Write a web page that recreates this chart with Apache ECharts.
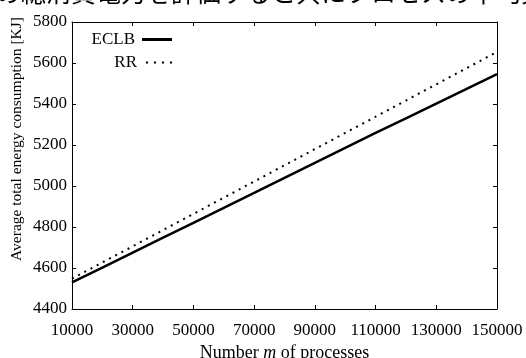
<!DOCTYPE html>
<html>
<head>
<meta charset="utf-8">
<script src="https://cdn.jsdelivr.net/npm/echarts@6/dist/echarts.min.js"></script>
<style>
  html, body { margin: 0; padding: 0; background: #fff; }
  #chart { width: 526px; height: 358px; }
</style>
</head>
<body>
<div id="chart"></div>
<script>
// number of processes m
var processes = [10000, 20000, 30000, 40000, 50000, 60000, 70000, 80000,
  90000, 100000, 110000, 120000, 130000, 140000, 150000];
// average total energy consumption [KJ]
var eclb = [4530, 4602, 4675, 4748, 4820, 4893, 4966, 5040,
  5113, 5186, 5259, 5330, 5402, 5474, 5546];
var rr = [4548, 4627, 4706, 4785, 4864, 4943, 5022, 5101,
  5180, 5259, 5338, 5417, 5496, 5575, 5654];

var xTicks = { min: 10000, max: 150000, interval: 20000 };
var yTicks = { min: 4400, max: 5800, interval: 200 };

var serif = 'Liberation Serif';

function pairs(xs, ys) {
  var res = [];
  for (var i = 0; i < xs.length; i++) {
    res.push([xs[i], ys[i]]);
  }
  return res;
}

// box axes: ticks inward on all four sides, labels only bottom/left
function boxAxis(pos, range, showLabel) {
  return {
    type: 'value',
    position: pos,
    min: range.min,
    max: range.max,
    interval: range.interval,
    axisLine: { show: true, onZero: false, lineStyle: { color: '#000', width: 1 } },
    axisTick: { show: true, inside: true, length: 4, lineStyle: { color: '#000' } },
    splitLine: { show: false },
    axisLabel: {
      show: showLabel,
      color: '#000',
      fontFamily: serif,
      fontSize: 17,
      margin: (pos === 'bottom') ? 13 : 5,
      formatter: function (v) { return String(v); }
    }
  };
}

var xBottom = boxAxis('bottom', xTicks, true);
xBottom.name = '{a|Number }{m|m}{a| of processes}';
xBottom.nameLocation = 'middle';
xBottom.nameGap = 34;
xBottom.nameTextStyle = {
  rich: {
    a: { fontFamily: serif, fontSize: 18, color: '#000' },
    m: { fontFamily: serif, fontSize: 18, color: '#000', fontStyle: 'italic' }
  }
};

function legendAt(name, top, icon, h) {
  return {
    data: [{ name: name, icon: icon }],
    right: 354,
    top: top,
    align: 'right',
    itemWidth: 30,
    itemHeight: h,
    itemGap: 4,
    padding: 0,
    itemStyle: { color: '#000', borderWidth: 0 },
    textStyle: { fontFamily: serif, fontSize: 17, color: '#000', padding: [0, 2, 0, 0] }
  };
}

var option = {
  backgroundColor: '#fff',
  animation: false,
  title: {
    text: 'の総消費電力を評価すると共にプロセスの平均実行時間',
    left: -4,
    top: -20,
    padding: 0,
    textStyle: {
      fontFamily: 'Noto Sans CJK JP',
      fontSize: 25,
      fontWeight: 'normal',
      color: '#000'
    }
  },
  grid: { left: 72, right: 29, top: 22, bottom: 49, outerBoundsMode: 'none', containLabel: false },
  legend: [
    legendAt('ECLB', 31, 'rect', 3),
    legendAt('RR', 54, 'path://M0,0h2v2h-2zM8,0h2v2h-2zM16,0h2v2h-2zM24,0h2v2h-2z', 2)
  ],
  xAxis: [xBottom, boxAxis('top', xTicks, false)],
  yAxis: [boxAxis('left', yTicks, true), boxAxis('right', yTicks, false)],
  graphic: [{
    type: 'text',
    x: 17,
    y: 139,
    rotation: Math.PI / 2,
    style: {
      text: 'Average total energy consumption [KJ]',
      fontFamily: serif,
      fontSize: 15.5,
      fill: '#000',
      align: 'center',
      verticalAlign: 'middle'
    }
  }],
  series: [{
    name: 'ECLB',
    type: 'line',
    xAxisIndex: 0,
    yAxisIndex: 0,
    showSymbol: false,
    symbol: 'none',
    lineStyle: { color: '#000', width: 2.5, type: 'solid' },
    itemStyle: { color: '#000' },
    data: pairs(processes, eclb)
  }, {
    name: 'RR',
    type: 'line',
    xAxisIndex: 0,
    yAxisIndex: 0,
    showSymbol: false,
    symbol: 'none',
    lineStyle: { color: '#000', width: 2, type: [2, 5] },
    itemStyle: { color: '#000' },
    data: pairs(processes, rr)
  }]
};

var myChart = echarts.init(document.getElementById('chart'));
myChart.setOption(option);
</script>
</body>
</html>
